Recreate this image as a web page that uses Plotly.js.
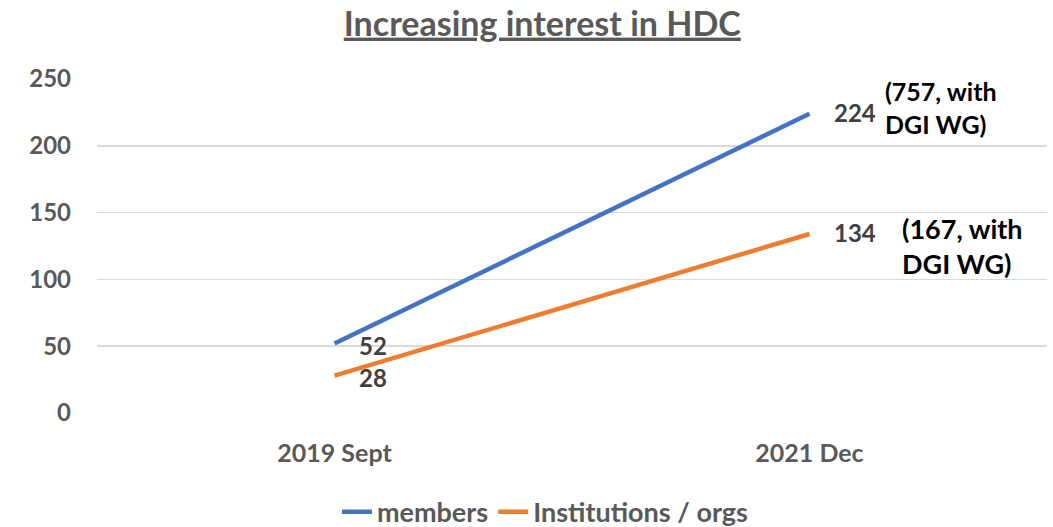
<!DOCTYPE html>
<html><head><meta charset="utf-8">
<script src="https://cdn.plot.ly/plotly-3.0.1.min.js"></script>
<style>html,body{margin:0;padding:0;background:#fff;}#chart{width:1053px;height:527px;}</style>
</head><body><div id="chart"></div>
<script>
const categories = ["2019 Sept", "2021 Dec"];
const members = [52, 224];
const institutions = [28, 134];
const seriesNames = ["members", "Institutions / orgs"];
const noteMembers = "(757, with<br>DGI WG)";
const noteInstitutions = "(167, with<br>DGI WG)";

const FONT = "Lato, 'Open Sans', sans-serif";
const traces = [
  {x: categories, y: members, name: seriesNames[0], type: "scatter", mode: "lines",
   line: {color: "#4472C4", width: 4.5}},
  {x: categories, y: institutions, name: seriesNames[1], type: "scatter", mode: "lines",
   line: {color: "#ED7D31", width: 4.5}}
];
const labelAnn = [];
[[members, -3], [institutions, -3]].forEach(([vals, ys]) => {
  vals.forEach((v, i) => {
    labelAnn.push({x: categories[i], y: v, xref: "x", yref: "y", text: "<b>" + v + "</b>", showarrow: false,
      xanchor: "left", yanchor: "middle", xshift: 22, yshift: (i === 0 ? ys : 0) + 1,
      font: {family: FONT, size: 24, color: "#404040", weight: "bold"}});
  });
});
const layout = {
  width: 1053, height: 527,
  margin: {l: 97, r: 6, t: 79, b: 114, autoexpand: false},
  paper_bgcolor: "#fff", plot_bgcolor: "#fff",
  title: {text: "<b><u>Increasing interest in HDC</u></b>", font: {family: FONT, size: 34, color: "#595959"},
          x: 0.515, xanchor: "center", y: 0.955, yanchor: "middle"},
  xaxis: {type: "category", range: [-0.5, 1.5], showgrid: false, zeroline: false, showline: false,
          tickfont: {family: FONT, size: 25, color: "#595959", weight: "bold"}, ticks: "", ticklabelstandoff: 23},
  yaxis: {range: [0, 250], dtick: 50, showgrid: true, gridcolor: "#D9D9D9", gridwidth: 1.5, zeroline: false,
          showline: false, tickfont: {family: FONT, size: 24, color: "#595959", weight: "bold"}, ticks: "",
          ticklabelstandoff: 25},
  showlegend: true,
  legend: {orientation: "h", x: 0.472, xanchor: "center", y: -0.297, yanchor: "middle",
           font: {family: FONT, size: 27, color: "#595959", weight: "bold"}, tracegroupgap: 0},
  annotations: labelAnn.concat([
    {x: categories[1], y: members[1], xref: "x", yref: "y", text: "<b>" + noteMembers + "</b>", showarrow: false,
     xanchor: "left", yanchor: "middle", align: "left", xshift: 73, yshift: 6,
     font: {family: FONT, size: 25, color: "#000"}},
    {x: categories[1], y: institutions[1], xref: "x", yref: "y", text: "<b>" + noteInstitutions + "</b>", showarrow: false,
     xanchor: "left", yanchor: "middle", align: "left", xshift: 90, yshift: -12,
     font: {family: FONT, size: 27, color: "#000"}}
  ])
};
Plotly.newPlot("chart", traces, layout, {displayModeBar: false, staticPlot: true});
</script></body></html>
